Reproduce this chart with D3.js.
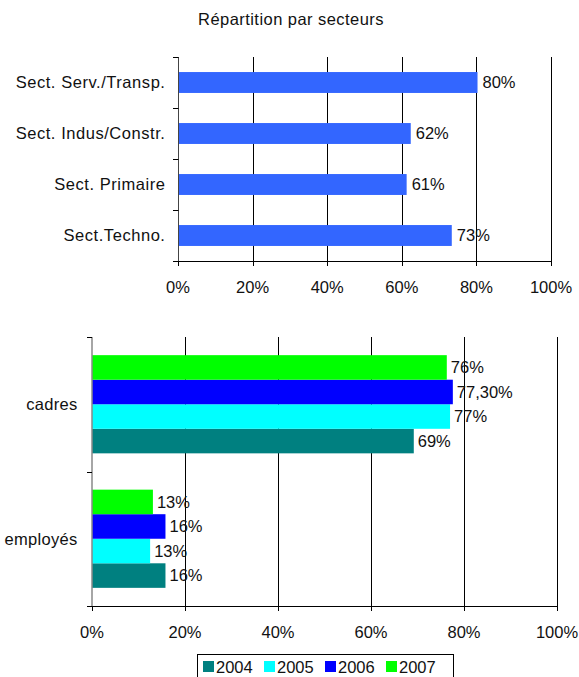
<!DOCTYPE html>
<html>
<head>
<meta charset="utf-8">
<script src="https://cdn.jsdelivr.net/npm/d3@7"></script>
<style>
  html, body { margin: 0; padding: 0; background: #fff; }
  svg { display: block; }
  text { font-family: "Liberation Sans", Arial, sans-serif; fill: #111; }
</style>
</head>
<body>
<svg id="chart" width="579" height="677"></svg>
<script>
// ---- Data ----
const title = "Répartition par secteurs";
const sectors = ["Sect. Serv./Transp.", "Sect. Indus/Constr.", "Sect. Primaire", "Sect.Techno."];
const sectorValues = [0.803, 0.624, 0.613, 0.734];
const sectorLabels = ["80%", "62%", "61%", "73%"];

const groups = ["cadres", "employés"];
const years = ["2004", "2005", "2006", "2007"];
const values2004 = [0.692, 0.158];
const values2005 = [0.77, 0.125];
const values2006 = [0.776, 0.158];
const values2007 = [0.763, 0.131];
const labels2004 = ["69%", "16%"];
const labels2005 = ["77%", "13%"];
const labels2006 = ["77,30%", "16%"];
const labels2007 = ["76%", "13%"];
const yearColors = ["#008080", "#00FFFF", "#0000FF", "#00FF00"];
const tickValues = [0, 0.2, 0.4, 0.6, 0.8, 1.0];
const tickLabels = ["0%", "20%", "40%", "60%", "80%", "100%"];

const svg = d3.select("#chart");
const FS = 16.5;
const LS = "0.55px";

// ---- Top chart ----
svg.append("text").attr("x", 291).attr("y", 20.5).attr("text-anchor", "middle")
  .attr("dominant-baseline", "middle").attr("font-size", FS).attr("letter-spacing", "0.45px").text(title);

const x1 = d3.scaleLinear().domain([0, 1]).range([178, 551]);
const y1 = d3.scaleBand().domain(sectors).range([57, 261]).paddingInner(0.59).paddingOuter(0.295);
const g1 = svg.append("g");

g1.selectAll("line.grid").data(tickValues.slice(1)).enter().append("line")
  .attr("x1", d => Math.round(x1(d)) + 0.5).attr("x2", d => Math.round(x1(d)) + 0.5)
  .attr("y1", 57).attr("y2", 261).attr("stroke", "#000").attr("stroke-width", 1);

g1.selectAll("rect").data(sectors).enter().append("rect")
  .attr("x", x1(0)).attr("y", d => y1(d))
  .attr("width", (d, i) => x1(sectorValues[i]) - x1(0))
  .attr("height", y1.bandwidth()).attr("fill", "#3366FF");

g1.selectAll("text.val").data(sectors).enter().append("text")
  .attr("x", (d, i) => x1(sectorValues[i]) + 5)
  .attr("y", d => y1(d) + y1.bandwidth() / 2)
  .attr("dy", "0.35em").attr("font-size", FS)
  .text((d, i) => sectorLabels[i]);

g1.selectAll("text.cat").data(sectors).enter().append("text")
  .attr("x", 165.5).attr("y", d => y1(d) + y1.bandwidth() / 2)
  .attr("dy", "0.35em").attr("text-anchor", "end").attr("font-size", FS)
  .attr("letter-spacing", LS)
  .text(d => d);

const step1 = y1.step();
g1.append("line").attr("x1", 178.5).attr("x2", 178.5).attr("y1", 57).attr("y2", 261)
  .attr("stroke", "#444");
g1.selectAll("line.ltick").data(d3.range(sectors.length + 1)).enter().append("line")
  .attr("x1", 173).attr("x2", 178.5)
  .attr("y1", i => Math.round(57 + i * step1) + 0.5).attr("y2", i => Math.round(57 + i * step1) + 0.5)
  .attr("stroke", "#000");
g1.append("line").attr("x1", 173).attr("x2", 551.5).attr("y1", 261.5).attr("y2", 261.5).attr("stroke", "#000");
g1.selectAll("line.btick").data(tickValues).enter().append("line")
  .attr("x1", d => Math.round(x1(d)) + 0.5).attr("x2", d => Math.round(x1(d)) + 0.5)
  .attr("y1", 261).attr("y2", 266).attr("stroke", "#000");
g1.selectAll("text.tick").data(tickValues).enter().append("text")
  .attr("x", d => x1(d)).attr("y", 287).attr("dy", "0.35em")
  .attr("text-anchor", "middle").attr("font-size", FS)
  .text((d, i) => tickLabels[i]);

// ---- Bottom chart ----
const x2 = d3.scaleLinear().domain([0, 1]).range([92, 557]);
const y2 = d3.scaleBand().domain(groups).range([337, 606]).paddingInner(0.27).paddingOuter(0.135);
const yy = d3.scaleBand().domain(years.slice().reverse()).range([0, y2.bandwidth()]);
const g2 = svg.append("g");

g2.selectAll("line.grid").data(tickValues.slice(1)).enter().append("line")
  .attr("x1", d => Math.round(x2(d)) + 0.5).attr("x2", d => Math.round(x2(d)) + 0.5)
  .attr("y1", 337).attr("y2", 606).attr("stroke", "#000");

const series = [
  { year: years[0], values: values2004, labels: labels2004, color: yearColors[0] },
  { year: years[1], values: values2005, labels: labels2005, color: yearColors[1] },
  { year: years[2], values: values2006, labels: labels2006, color: yearColors[2] },
  { year: years[3], values: values2007, labels: labels2007, color: yearColors[3] }
];
const cells = [];
series.forEach(s => groups.forEach((gname, gi) => cells.push({ g: gname, year: s.year, v: s.values[gi], label: s.labels[gi], color: s.color })));

g2.selectAll("rect").data(cells).enter().append("rect")
  .attr("x", x2(0)).attr("y", d => y2(d.g) + yy(d.year))
  .attr("width", d => x2(d.v) - x2(0)).attr("height", yy.bandwidth())
  .attr("fill", d => d.color);

g2.selectAll("text.val").data(cells).enter().append("text")
  .attr("x", d => x2(d.v) + 4).attr("y", d => y2(d.g) + yy(d.year) + yy.bandwidth() / 2)
  .attr("dy", "0.35em").attr("font-size", FS).text(d => d.label);

g2.selectAll("text.cat").data(groups).enter().append("text")
  .attr("x", 77.5).attr("y", d => y2(d) + y2.bandwidth() / 2)
  .attr("dy", "0.35em").attr("text-anchor", "end").attr("font-size", FS)
  .attr("letter-spacing", "0.3px").text(d => d);

const step2 = y2.step();
g2.append("line").attr("x1", 92).attr("x2", 92).attr("y1", 337).attr("y2", 606)
  .attr("stroke", "#888").attr("stroke-width", 1.5);
g2.selectAll("line.ltick").data(d3.range(groups.length + 1)).enter().append("line")
  .attr("x1", 87).attr("x2", 92)
  .attr("y1", i => Math.round(337 + i * step2) + 0.5).attr("y2", i => Math.round(337 + i * step2) + 0.5)
  .attr("stroke", "#000");
g2.append("line").attr("x1", 87).attr("x2", 557.5).attr("y1", 606.5).attr("y2", 606.5).attr("stroke", "#000");
g2.selectAll("line.btick").data(tickValues).enter().append("line")
  .attr("x1", d => Math.round(x2(d)) + 0.5).attr("x2", d => Math.round(x2(d)) + 0.5)
  .attr("y1", 606).attr("y2", 611).attr("stroke", "#000");
g2.selectAll("text.tick").data(tickValues).enter().append("text")
  .attr("x", d => x2(d)).attr("y", 632).attr("dy", "0.35em")
  .attr("text-anchor", "middle").attr("font-size", FS)
  .text((d, i) => tickLabels[i]);

// legend
const lg = svg.append("g");
lg.append("rect").attr("x", 197.5).attr("y", 654.5).attr("width", 256).attr("height", 30)
  .attr("fill", "#fff").attr("stroke", "#000");
const legPitch = 61;
series.forEach((s, i) => {
  const lx = 203 + i * legPitch;
  lg.append("rect").attr("x", lx).attr("y", 661).attr("width", 11).attr("height", 11).attr("fill", s.color);
  lg.append("text").attr("x", lx + 13).attr("y", 667).attr("dy", "0.35em")
    .attr("font-size", FS).text(s.year);
});
</script>
</body>
</html>
